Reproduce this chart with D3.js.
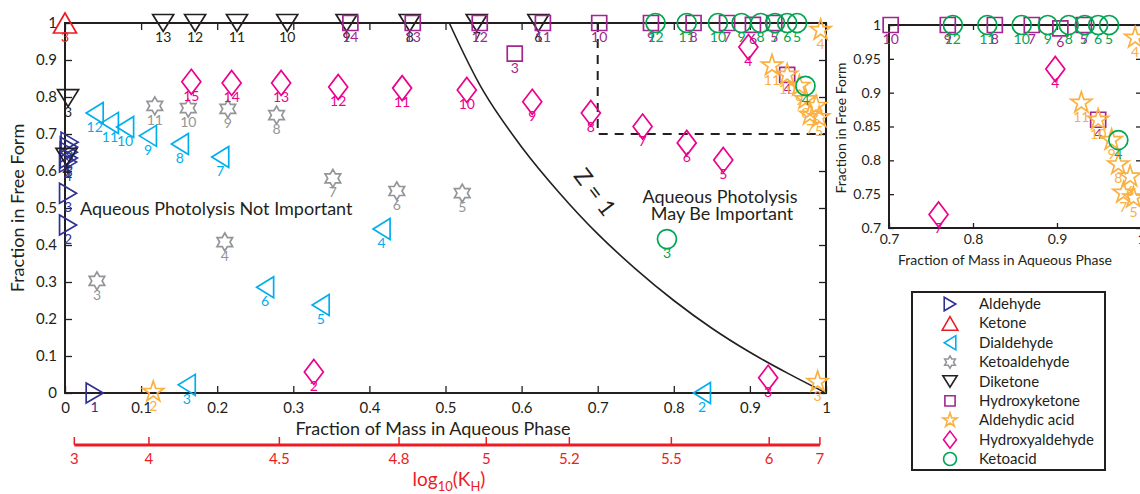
<!DOCTYPE html>
<html>
<head>
<meta charset="utf-8">
<script src="https://cdn.jsdelivr.net/npm/d3@7"></script>
<style>
  body { margin: 0; background: #fff; }
  svg { display: block; }
  text { font-family: Lato, "Open Sans", sans-serif; fill: #231f20; }
</style>
</head>
<body>
<svg id="chart" width="1140" height="494"></svg>
<script>
// ---- Compound classes (legend order) ----
const classNames = ["Aldehyde", "Ketone", "Dialdehyde", "Ketoaldehyde", "Diketone",
                    "Hydroxyketone", "Aldehydic acid", "Hydroxyaldehyde", "Ketoacid"];
const classColors = ["#2e3192", "#ed1c24", "#00aeef", "#939598", "#231f20",
                     "#a3268f", "#fbb040", "#ec008c", "#00a651"];
const classShapes = ["triRight", "triUp", "triLeft", "hexagram", "triDown",
                     "square", "star5", "diamond", "circle"];

// ---- Per-class data: carbon number, fraction of mass in aqueous phase, fraction in free form ----
const aldehydeN    = [1, 2, 3, 4, 5, 6, 7, 8];
const aldehydeAq   = [0.039, 0.004, 0.004, 0.004, 0.005, 0.005, 0.005, 0.006];
const aldehydeFree = [0.0, 0.454, 0.540, 0.624, 0.635, 0.651, 0.665, 0.678];

const ketoneN    = [3];
const ketoneAq   = [0.0];
const ketoneFree = [1.0];

const dialdehydeN    = [2, 3, 4, 5, 6, 7, 8, 9, 10, 11, 12];
const dialdehydeAq   = [0.837, 0.160, 0.416, 0.336, 0.263, 0.204, 0.151, 0.109, 0.079, 0.059, 0.039];
const dialdehydeFree = [0.0, 0.022, 0.443, 0.238, 0.286, 0.638, 0.673, 0.695, 0.719, 0.730, 0.757];

const ketoaldehydeN    = [3, 4, 5, 6, 7, 8, 9, 10, 11];
const ketoaldehydeAq   = [0.042, 0.210, 0.522, 0.436, 0.352, 0.278, 0.214, 0.162, 0.118];
const ketoaldehydeFree = [0.303, 0.408, 0.540, 0.546, 0.580, 0.751, 0.768, 0.770, 0.776];

const diketoneN    = [3, 4, 6, 7, 8, 9, 10, 11, 12, 13];
const diketoneAq   = [0.004, 0.002, 0.622, 0.541, 0.453, 0.370, 0.292, 0.226, 0.171, 0.129];
const diketoneFree = [0.797, 0.638, 1, 1, 1, 1, 1, 1, 1, 1];

const hydroxyketoneN    = [3, 4, 5, 6, 7, 8, 9, 10, 11, 12, 13, 14];
const hydroxyketoneAq   = [0.591, 0.949, 0.932, 0.904, 0.870, 0.826, 0.770, 0.702, 0.628, 0.545, 0.457, 0.375];
const hydroxyketoneFree = [0.917, 0.860, 1, 0.995, 1, 1, 1, 1, 1, 1, 1, 1];

const aldehydicAcidN    = [2, 3, 4, 5, 6, 7, 8, 9, 10, 11];
const aldehydicAcidAq   = [0.116, 0.989, 0.993, 0.991, 0.987, 0.979, 0.973, 0.965, 0.949, 0.929];
const aldehydicAcidFree = [0.003, 0.030, 0.981, 0.745, 0.776, 0.752, 0.794, 0.830, 0.860, 0.885];

const hydroxyaldehydeN    = [2, 3, 4, 5, 6, 7, 8, 9, 10, 11, 12, 13, 14, 15];
const hydroxyaldehydeAq   = [0.327, 0.924, 0.898, 0.865, 0.817, 0.759, 0.691, 0.614, 0.528, 0.443, 0.359, 0.284, 0.219, 0.166];
const hydroxyaldehydeFree = [0.057, 0.041, 0.935, 0.630, 0.676, 0.720, 0.757, 0.787, 0.819, 0.824, 0.827, 0.838, 0.838, 0.841];

const ketoacidN    = [3, 4, 5, 6, 7, 8, 9, 10, 11, 12];
const ketoacidAq   = [0.791, 0.973, 0.962, 0.949, 0.933, 0.914, 0.889, 0.858, 0.817, 0.776];
const ketoacidFree = [0.416, 0.830, 1, 1, 1, 1, 1, 1, 1, 1];

// Z = 1 boundary, read as (aqueous fraction, free fraction) pairs
const zCurveAq   = [0.505, 0.55, 0.60, 0.65, 0.70, 0.75, 0.80, 0.85, 0.90, 0.95, 1.00];
const zCurveFree = [1.00, 0.815, 0.665, 0.54, 0.43, 0.335, 0.25, 0.175, 0.11, 0.053, 0.0];

// Tick labels
const mainTicks   = [0, 0.1, 0.2, 0.3, 0.4, 0.5, 0.6, 0.7, 0.8, 0.9, 1];
const insetXTicks = [0.7, 0.8, 0.9, 1];
const insetYTicks = [0.7, 0.75, 0.8, 0.85, 0.9, 0.95, 1];
const logKhTicks  = [3, 4, 4.5, 4.8, 5, 5.2, 5.5, 6, 7];

// Partitioning factor (L*R*T) linking log10(KH) to aqueous mass fraction
const partitionFactor = 1.24e-5;

const classData = [
  [aldehydeN, aldehydeAq, aldehydeFree],
  [ketoneN, ketoneAq, ketoneFree],
  [dialdehydeN, dialdehydeAq, dialdehydeFree],
  [ketoaldehydeN, ketoaldehydeAq, ketoaldehydeFree],
  [diketoneN, diketoneAq, diketoneFree],
  [hydroxyketoneN, hydroxyketoneAq, hydroxyketoneFree],
  [aldehydicAcidN, aldehydicAcidAq, aldehydicAcidFree],
  [hydroxyaldehydeN, hydroxyaldehydeAq, hydroxyaldehydeFree],
  [ketoacidN, ketoacidAq, ketoacidFree]
];

// ---- Marker glyphs, centred on the origin ----
function starPath(points, rOut, rIn, startDeg) {
  const p = [];
  for (let i = 0; i < points * 2; i++) {
    const r = i % 2 === 0 ? rOut : rIn;
    const a = (startDeg + i * 180 / points) * Math.PI / 180;
    p.push([r * Math.cos(a), r * Math.sin(a)]);
  }
  return "M" + p.map(d => d[0].toFixed(2) + "," + d[1].toFixed(2)).join("L") + "Z";
}
const glyph = {
  triRight: s => `M${-8.5*s},${-10*s}L${8.5*s},0L${-8.5*s},${10*s}Z`,
  triUp:    s => `M0,${-10*s}L${11.5*s},${10*s}L${-11.5*s},${10*s}Z`,
  triLeft:  s => `M${8.5*s},${-10.5*s}L${-8.5*s},0L${8.5*s},${10.5*s}Z`,
  triDown:  s => `M${-10.5*s},${-8.5*s}L${10.5*s},${-8.5*s}L0,${8.5*s}Z`,
  square:   s => `M${-7.5*s},${-7.5*s}H${7.5*s}V${7.5*s}H${-7.5*s}Z`,
  diamond:  s => `M0,${-12.5*s}L${9.5*s},0L0,${12.5*s}L${-9.5*s},0Z`,
  circle:   s => `M${9.5*s},0A${9.5*s},${9.5*s} 0 1,1 ${-9.5*s},0A${9.5*s},${9.5*s} 0 1,1 ${9.5*s},0Z`,
  hexagram: s => starPath(6, 9 * s, 9 * s / Math.sqrt(3), -90),
  star5:    s => starPath(5, 11 * s, 11 * s * 0.382, -90)
};

const svg = d3.select("#chart");

// ---- Main panel scales ----
const x = d3.scaleLinear().domain([0, 1]).range([65, 826]);
const y = d3.scaleLinear().domain([0, 1]).range([393, 23]);

// ---- Inset panel scales ----
const xi = d3.scaleLinear().domain([0.7, 1]).range([889, 1141]);
const yi = d3.scaleLinear().domain([0.7, 1]).range([228, 25]);

function drawFrame(g, sx, sy, xTicks, yTicks, fmtX, fmtY, fontSize, tickLen, padX, padY) {
  const [x0, x1] = sx.range(), [y0, y1] = sy.range();
  g.append("g").attr("transform", `translate(0,${y0})`)
    .call(d3.axisBottom(sx).tickValues(xTicks).tickFormat(fmtX).tickSizeInner(-tickLen).tickSizeOuter(0).tickPadding(padX));
  g.append("g").attr("transform", `translate(${x0},0)`)
    .call(d3.axisLeft(sy).tickValues(yTicks).tickFormat(fmtY).tickSizeInner(-tickLen).tickSizeOuter(0).tickPadding(padY));
  g.append("g").attr("transform", `translate(0,${y1})`)
    .call(d3.axisTop(sx).tickValues(xTicks).tickFormat("").tickSizeInner(-tickLen).tickSizeOuter(0));
  g.append("g").attr("transform", `translate(${x1},0)`)
    .call(d3.axisRight(sy).tickValues(yTicks).tickFormat("").tickSizeInner(-tickLen).tickSizeOuter(0));
  g.selectAll(".domain").remove();
  g.selectAll(".tick line").attr("stroke", "#231f20").attr("stroke-width", 1.3);
  g.selectAll(".tick text").attr("font-size", fontSize).attr("fill", "#231f20")
    .style("font-family", "Lato, 'Open Sans', sans-serif");
  g.append("rect").attr("x", x0).attr("y", y1).attr("width", x1 - x0).attr("height", y0 - y1)
    .attr("fill", "none").attr("stroke", "#231f20").attr("stroke-width", 2);
}

const fmtMain = d => d3.format("")(+d.toFixed(2));

// ---- Main panel ----
const main = svg.append("g");
drawFrame(main, x, y, mainTicks, mainTicks, fmtMain, fmtMain, 15, 7, 9, 8);

// Z = 1 curve
main.append("path")
  .datum(d3.zip(zCurveAq, zCurveFree))
  .attr("fill", "none").attr("stroke", "#231f20").attr("stroke-width", 1.6)
  .attr("d", d3.line().x(d => x(d[0])).y(d => y(d[1])).curve(d3.curveCatmullRom.alpha(0.5)));

main.append("text")
  .attr("transform", `translate(${x(0.688)},${y(0.53)}) rotate(53)`)
  .attr("text-anchor", "middle").attr("font-size", 23)
  .text("Z = 1");

// Dashed outline of the zoomed region
main.append("path")
  .attr("d", `M${x(0.7)},${y(1)}V${y(0.7)}H${x(1)}`)
  .attr("fill", "none").attr("stroke", "#231f20").attr("stroke-width", 2)
  .attr("stroke-dasharray", "9,7");

// Region annotations
main.append("text").attr("x", 80).attr("y", 215).attr("font-size", 18)
  .text("Aqueous Photolysis Not Important");
main.append("text").attr("x", 720).attr("y", 203).attr("font-size", 18).attr("text-anchor", "middle")
  .text("Aqueous Photolysis");
main.append("text").attr("x", 722).attr("y", 220).attr("font-size", 18).attr("text-anchor", "middle")
  .text("May Be Important");

// Axis titles
main.append("text").attr("x", 433).attr("y", 435).attr("font-size", 18).attr("text-anchor", "middle")
  .text("Fraction of Mass in Aqueous Phase");
main.append("text").attr("transform", "translate(24,208) rotate(-90)")
  .attr("font-size", 18).attr("text-anchor", "middle")
  .text("Fraction in Free Form");

// ---- Secondary log10(KH) axis ----
const khToAq = k => { const r = partitionFactor * Math.pow(10, k); return r / (1 + r); };
const red = "#ed1c24";
const kAxis = svg.append("g");
kAxis.append("line")
  .attr("x1", x(khToAq(logKhTicks[0]))).attr("x2", x(khToAq(logKhTicks[logKhTicks.length - 1])))
  .attr("y1", 445).attr("y2", 445).attr("stroke", red).attr("stroke-width", 3);
kAxis.selectAll("line.kt").data(logKhTicks).join("line").attr("class", "kt")
  .attr("x1", d => x(khToAq(d))).attr("x2", d => x(khToAq(d)))
  .attr("y1", 445).attr("y2", 437).attr("stroke", red).attr("stroke-width", 1.5);
kAxis.selectAll("text.kl").data(logKhTicks).join("text").attr("class", "kl")
  .attr("x", d => x(khToAq(d))).attr("y", 464).attr("text-anchor", "middle")
  .attr("font-size", 15).style("fill", red).text(d => d);
const kTitle = kAxis.append("text").attr("x", 449).attr("y", 486).attr("text-anchor", "middle")
  .attr("font-size", 19).style("fill", red);
kTitle.append("tspan").text("log");
kTitle.append("tspan").attr("font-size", 13).attr("dy", 5).text("10");
kTitle.append("tspan").attr("dy", -5).text("(K");
kTitle.append("tspan").attr("font-size", 13).attr("dy", 5).text("H");
kTitle.append("tspan").attr("dy", -5).text(")");

// ---- Markers and carbon-number labels ----
function drawPoints(g, sx, sy, keep) {
  classData.forEach(([ns, aq, fr], ci) => {
    const pts = d3.range(ns.length).map(i => ({ n: ns[i], a: aq[i], f: fr[i] })).filter(keep);
    const cg = g.append("g");
    cg.selectAll("path").data(pts).join("path")
      .attr("transform", d => `translate(${sx(d.a)},${sy(d.f)})`)
      .attr("d", glyph[classShapes[ci]](1))
      .attr("fill", "none").attr("stroke", classColors[ci]).attr("stroke-width", 1.7)
      .attr("stroke-linejoin", "miter");
    cg.selectAll("text").data(pts).join("text")
      .attr("x", d => sx(d.a)).attr("y", d => sy(d.f) + 19)
      .attr("text-anchor", "middle").attr("font-size", 14)
      .style("fill", classColors[ci]).text(d => d.n);
  });
}
drawPoints(svg.append("g"), x, y, () => true);

// ---- Inset panel (zoom of upper-right corner) ----
const inset = svg.append("g");
drawFrame(inset, xi, yi, insetXTicks, insetYTicks, fmtMain, fmtMain, 14, 5, 6, 8);
inset.append("text").attr("x", 1005).attr("y", 265).attr("font-size", 14).attr("text-anchor", "middle")
  .text("Fraction of Mass in Aqueous Phase");
inset.append("text").attr("transform", "translate(846,128) rotate(-90)")
  .attr("font-size", 14).attr("text-anchor", "middle")
  .text("Fraction in Free Form");
drawPoints(svg.append("g"), xi, yi, d => d.a >= 0.7 && d.f >= 0.7);

// ---- Legend ----
const legend = svg.append("g");
legend.append("rect").attr("x", 912).attr("y", 292).attr("width", 193).attr("height", 178)
  .attr("fill", "#fff").attr("stroke", "#231f20").attr("stroke-width", 2);
const rowY = d3.scalePoint().domain(classNames).range([304, 459]);
classNames.forEach((name, i) => {
  legend.append("path")
    .attr("transform", `translate(950,${rowY(name)})`)
    .attr("d", glyph[classShapes[i]](0.68))
    .attr("fill", "none").attr("stroke", classColors[i]).attr("stroke-width", 1.6);
  legend.append("text").attr("x", 979).attr("y", rowY(name) + 5)
    .attr("font-size", 15).text(name);
});
</script>
</body>
</html>
